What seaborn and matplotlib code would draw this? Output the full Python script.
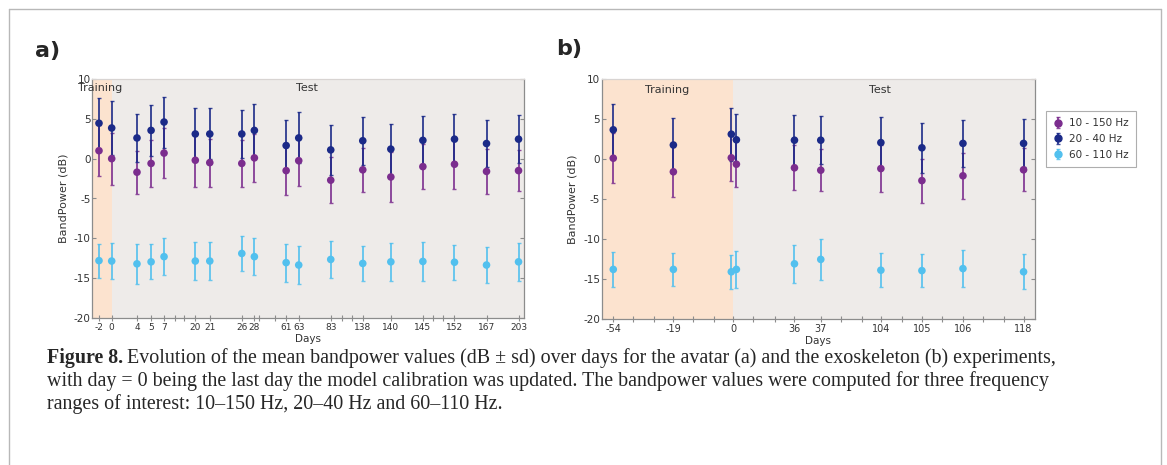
import numpy as np
import pandas as pd
import matplotlib
matplotlib.use("Agg")
import matplotlib.pyplot as plt
from matplotlib.lines import Line2D
import seaborn as sns

# ---------------- data ----------------
bands = ["10 - 150 Hz", "20 - 40 Hz", "60 - 110 Hz"]

# Panel a (avatar)
days_a = ["-2", "0", "4", "5", "7", "20", "21", "26", "28", "61", "63", "83",
          "138", "140", "145", "152", "167", "203"]
mean_a_10_150 = [1.0, 0.0, -1.7, -0.6, 0.7, -0.2, -0.5, -0.6, 0.1, -1.5, -0.25, -2.7,
                 -1.4, -2.3, -1.0, -0.7, -1.6, -1.5]
sd_a_10_150 = [3.2, 3.25, 2.7, 3.0, 3.1, 3.3, 3.0, 3.0, 3.0, 3.0, 3.2, 2.9,
               2.8, 3.1, 2.8, 3.1, 2.8, 2.6]
mean_a_20_40 = [4.45, 3.85, 2.6, 3.55, 4.6, 3.1, 3.1, 3.1, 3.55, 1.65, 2.6, 1.1,
                2.25, 1.2, 2.3, 2.45, 1.9, 2.45]
sd_a_20_40 = [3.2, 3.4, 3.0, 3.2, 3.2, 3.3, 3.2, 3.0, 3.3, 3.2, 3.2, 3.1,
              3.0, 3.2, 3.0, 3.2, 2.9, 3.0]
mean_a_60_110 = [-12.8, -12.85, -13.2, -12.95, -12.3, -12.85, -12.85, -11.9, -12.3, -13.05,
                 -13.35, -12.65, -13.15, -12.95, -12.9, -13.0, -13.35, -12.95]
sd_a_60_110 = [2.15, 2.3, 2.5, 2.2, 2.3, 2.35, 2.4, 2.2, 2.3, 2.4,
               2.4, 2.3, 2.2, 2.4, 2.5, 2.2, 2.2, 2.35]

# Panel b (exoskeleton)
days_b = ["-54", "-19", "0", "0", "36", "37", "104", "105", "106", "118"]
ticklabels_b = ["-54", "-19", "0", "36", "37", "104", "105", "106", "118"]
mean_b_10_150 = [0.1, -1.6, 0.15, -0.65, -1.1, -1.4, -1.2, -2.7, -2.1, -1.35]
sd_b_10_150 = [3.1, 3.2, 2.9, 2.9, 2.8, 2.6, 2.95, 2.75, 2.85, 2.7]
mean_b_20_40 = [3.65, 1.75, 3.1, 2.4, 2.35, 2.35, 2.05, 1.4, 1.95, 1.95]
sd_b_20_40 = [3.25, 3.35, 3.3, 3.2, 3.1, 3.0, 3.2, 3.1, 2.9, 3.0]
mean_b_60_110 = [-13.8, -13.8, -14.1, -13.8, -13.1, -12.55, -13.9, -13.95, -13.7, -14.1]
sd_b_60_110 = [2.15, 2.1, 2.1, 2.3, 2.4, 2.6, 2.15, 2.1, 2.35, 2.2]

# ---------------- layout (slot positions on the categorical day axis) ----------------
pos_a = [0.55, 1.55, 3.54, 4.65, 5.67, 8.13, 9.27, 11.79, 12.78, 15.28, 16.27, 18.79,
         21.31, 23.52, 26.04, 28.53, 31.05, 33.57]
minor_a = [6.54, 7.27, 13.15, 14.41, 19.66, 20.45, 26.83, 27.66]
xlim_a = (0, 34.0)
train_end_a = 1.55

pos_b = [0.91, 5.64, 10.2, 10.6, 15.17, 17.24, 21.97, 25.2, 28.43, 33.2]
tickpos_b = [0.91, 5.64, 10.36, 15.17, 17.24, 21.97, 25.2, 28.43, 33.2]
minor_b = [2.49, 4.14, 7.21, 8.83, 11.93, 13.64, 18.82, 20.47, 23.62, 26.77, 30.0, 31.63]
xlim_b = (0, 34.1)
train_end_b = 10.36

colors = {"10 - 150 Hz": "#7B2D8E", "20 - 40 Hz": "#1B2A88", "60 - 110 Hz": "#52C0EE"}
train_col = "#FCE3CF"
test_col = "#EEEBE9"
spine_col = "#8C8C8C"
text_col = "#333333"

sns.set_theme(style="white")
plt.rcParams["font.family"] = ["DejaVu Sans"]

W, H = 1167, 465
fig = plt.figure(figsize=(W / 100, H / 100), dpi=100)


def frac_rect(x0, y0, x1, y1):
    return [x0 / W, 1 - y1 / H, (x1 - x0) / W, (y1 - y0) / H]


ax_a = fig.add_axes(frac_rect(92, 79, 524, 318))
ax_b = fig.add_axes(frac_rect(601.7, 79, 1035, 319))


def build_df(pos, means, sds):
    rows = []
    for band, m, s in zip(bands, means, sds):
        for p, mv, sv in zip(pos, m, s):
            rows.append({"x": p, "mean": mv, "sd": sv, "band": band})
    return pd.DataFrame(rows)


df_a = build_df(pos_a, [mean_a_10_150, mean_a_20_40, mean_a_60_110],
                [sd_a_10_150, sd_a_20_40, sd_a_60_110])
df_b = build_df(pos_b, [mean_b_10_150, mean_b_20_40, mean_b_60_110],
                [sd_b_10_150, sd_b_20_40, sd_b_60_110])

err_handles = {}


def draw_panel(ax, df, xlim, train_end, majpos, majlabels, minpos, xlabsize):
    ax.set_facecolor(test_col)
    ax.axvspan(xlim[0], train_end, color=train_col, lw=0, zorder=0)
    for band in bands:
        sub = df[df["band"] == band]
        cont = ax.errorbar(sub["x"], sub["mean"], yerr=sub["sd"], fmt="none",
                           ecolor=colors[band], elinewidth=1.4, capsize=1.5,
                           capthick=1.0, alpha=0.85, zorder=2)
        err_handles[band] = cont
    sns.scatterplot(data=df, x="x", y="mean", hue="band", palette=colors,
                    hue_order=bands, s=30, edgecolor="none", legend=False,
                    ax=ax, zorder=3)
    ax.set_xlim(*xlim)
    ax.set_ylim(-20, 10)
    ax.set_yticks([-20, -15, -10, -5, 0, 5, 10])
    ax.set_yticklabels(["-20", "-15", "-10", "-5", "0", "5", "10"])
    ax.set_xticks(majpos)
    ax.set_xticklabels(majlabels)
    ax.set_xticks(minpos, minor=True)
    ax.tick_params(axis="x", which="both", direction="inout", length=5, width=0.8,
                   color=spine_col, labelsize=xlabsize, labelcolor=text_col, pad=1,
                   bottom=True)
    ax.tick_params(axis="y", which="both", direction="in", length=3, width=0.8,
                   color=spine_col, labelsize=7.5, labelcolor=text_col, pad=1,
                   left=True, right=True)
    for sp in ax.spines.values():
        sp.set_color(spine_col)
        sp.set_linewidth(0.9)
    ax.spines["top"].set_color("#D8D4D2")
    ax.set_xlabel("Days", fontsize=7.5, color=text_col, labelpad=1.5)
    ax.set_ylabel("BandPower (dB)", fontsize=8, color=text_col, labelpad=4)


draw_panel(ax_a, df_a, xlim_a, train_end_a, pos_a, days_a, minor_a, 6.5)
draw_panel(ax_b, df_b, xlim_b, train_end_b, tickpos_b, ticklabels_b, minor_b, 7)

# Region labels
ax_a.text(-0.032, 0.962, "Training", transform=ax_a.transAxes, fontsize=8,
          color=text_col, ha="left", va="center")
ax_a.text(0.498, 0.962, "Test", transform=ax_a.transAxes, fontsize=8,
          color=text_col, ha="center", va="center")
ax_b.text(0.15, 0.954, "Training", transform=ax_b.transAxes, fontsize=8,
          color=text_col, ha="center", va="center")
ax_b.text(0.642, 0.954, "Test", transform=ax_b.transAxes, fontsize=8,
          color=text_col, ha="center", va="center")

# Panel letters
fig.text(35 / W, 1 - 51 / H, "a)", fontsize=16, fontweight="bold", ha="left", va="center")
fig.text(556 / W, 1 - 49 / H, "b)", fontsize=16, fontweight="bold", ha="left", va="center")

# Legend
handles = []
for band in bands:
    mk = Line2D([], [], marker="o", ls="", color=colors[band], markersize=5)
    handles.append((err_handles[band], mk))
leg = fig.legend(handles, bands, loc="upper left",
                 bbox_to_anchor=(1046 / W, 1 - 111 / H), fontsize=7.5,
                 frameon=True, fancybox=False, edgecolor="#9A9A9A",
                 handlelength=0.9, handletextpad=0.6, borderpad=0.7,
                 labelspacing=0.55, borderaxespad=0)
leg.get_frame().set_linewidth(0.8)
for t in leg.get_texts():
    t.set_color(text_col)

# Outer frame
frame_col = "#B8B8B8"
fig.add_artist(Line2D([9 / W, 1160.5 / W], [1 - 9.5 / H, 1 - 9.5 / H],
                      transform=fig.transFigure, color=frame_col, lw=1))
fig.add_artist(Line2D([9 / W, 9 / W], [0, 1 - 9.5 / H],
                      transform=fig.transFigure, color=frame_col, lw=1))
fig.add_artist(Line2D([1160.5 / W, 1160.5 / W], [0, 1 - 9.5 / H],
                      transform=fig.transFigure, color=frame_col, lw=1))

# Caption
cap_font = ["Liberation Serif", "DejaVu Serif"]
cap_size = 14.4
x0 = 47 / W
fig.canvas.draw()
renderer = fig.canvas.get_renderer()
t_bold = fig.text(x0, 1 - 358 / H, "Figure 8.", fontsize=cap_size, family=cap_font,
                  fontweight="bold", ha="left", va="center")
bb = t_bold.get_window_extent(renderer=renderer)
fig.text(bb.x1 / (fig.dpi * fig.get_figwidth()) + 4 / W, 1 - 358 / H,
         "Evolution of the mean bandpower values (dB \u00b1 sd) over days for the avatar (a) "
         "and the exoskeleton (b) experiments,",
         fontsize=cap_size, family=cap_font, ha="left", va="center")
fig.text(x0, 1 - 381 / H,
         "with day = 0 being the last day the model calibration was updated. The bandpower "
         "values were computed for three frequency",
         fontsize=cap_size, family=cap_font, ha="left", va="center")
fig.text(x0, 1 - 404 / H,
         "ranges of interest: 10\u2013150 Hz, 20\u201340 Hz and 60\u2013110 Hz.",
         fontsize=cap_size, family=cap_font, ha="left", va="center")

fig.savefig("out.png", dpi=100)
